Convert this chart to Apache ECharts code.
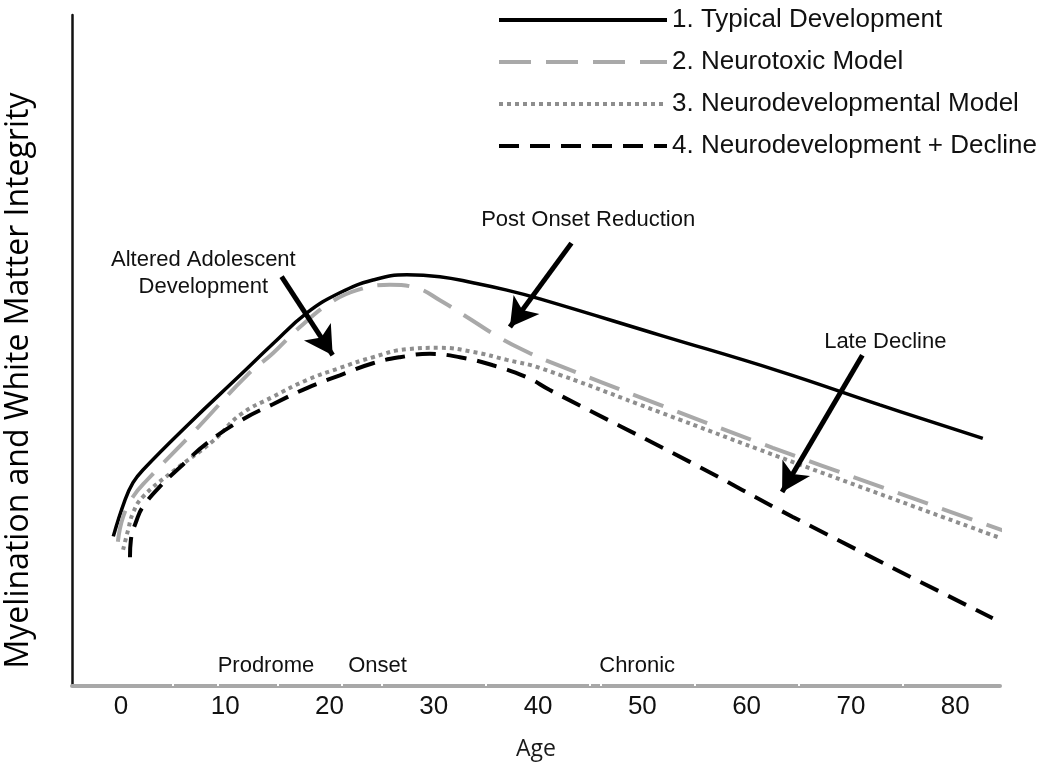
<!DOCTYPE html>
<html>
<head>
<meta charset="utf-8">
<script src="https://cdn.jsdelivr.net/npm/echarts@6/dist/echarts.min.js"></script>
<style>html,body{margin:0;padding:0;background:#fff}#c{width:1050px;height:782px}</style>
</head>
<body>
<div id="c"></div>
<script>
// ---- data (age, relative integrity 0-100) ----
const seriesNames = ['1. Typical Development', '2. Neurotoxic Model', '3. Neurodevelopmental Model', '4. Neurodevelopment + Decline'];
const typical = [[-0.74,22.3],[0.38,27.7],[1.15,30.3],[2.1,32.2],[6.6,39.2],[11.41,46.3],[14.57,51.0],[17.83,55.6],[20.99,58.6],[24.16,60.5],[27.42,61.3],[30.58,61.0],[33.75,60.1],[37.01,59.0],[40.17,57.7],[51.68,52.3],[63.18,46.9],[72.77,41.9],[82.65,36.9]];
const neurotoxic = [[-0.3,21.5],[0.2,25.2],[1.15,28.2],[2.5,30.7],[7.3,38.4],[12.08,46.3],[14.57,49.6],[17.16,53.5],[20.04,57.1],[22.63,59.0],[25.79,59.8],[28.38,59.3],[30.58,57.5],[33.17,55.0],[36.34,51.9],[39.21,49.6],[40.65,48.6],[51.68,41.9],[62.51,35.5],[84.56,23.2]];
const neurodev = [[0.2,20.3],[0.67,23.2],[1.15,25.8],[2.1,28.2],[4.99,32.0],[8.82,36.5],[11.41,40.4],[14.57,43.1],[17.83,45.6],[20.99,47.4],[24.16,49.0],[27.42,50.2],[30.58,50.4],[33.75,49.8],[37.01,48.6],[40.17,47.4],[51.68,40.8],[63.18,34.1],[84.08,22.2]];
const neurodevDecline = [[0.86,19.2],[0.95,21.8],[1.5,24.7],[2.1,26.7],[3.9,30.0],[5.66,32.6],[8.25,36.2],[11.41,39.5],[14.57,42.0],[17.83,44.4],[20.99,46.3],[24.16,48.1],[26.75,49.0],[29.63,49.5],[32.5,49.0],[35.67,47.8],[38.93,46.0],[41.13,44.1],[54.55,33.4],[64.43,25.2],[83.6,10.1]];
const xTickLabels = [0,10,20,30,40,50,60,70,80];
const xBreaks = [5,9.3,15,21.2,25,35,45,46,55,65,75];
const periodLabels = [['Prodrome',13.9],['Onset',24.6],['Chronic',49.5]];
const arrows = [
  {from:[15.4,61.0], to:[20.3,49.3]},
  {from:[43.2,66.0], to:[37.3,53.5]},
  {from:[71.1,49.3], to:[63.4,28.9]}
];
const annotations = [
  {text:'Altered Adolescent\nDevelopment', at:[7.9,61.5]},
  {text:'Post Onset Reduction', at:[44.8,69.5]},
  {text:'Late Decline', at:[73.3,51.3]}
];

const FONT = '"Liberation Sans", Arial, sans-serif';
const chart = echarts.init(document.getElementById('c'), null, {renderer:'canvas'});

const lineSeries = (name, data, color, width, dash) => ({
  name, type:'line', data, smooth:0.45, symbol:'none', showSymbol:false,
  xAxisIndex:0, yAxisIndex:0,
  lineStyle:{color, width, type:dash, cap:'butt'}, itemStyle:{color}, z:3
});

chart.setOption({
  animation:false,
  backgroundColor:'#fff',
  grid:{left:72, right:50, top:15, bottom:96, outerBoundsMode:'none', containLabel:false},
  legend:{
    orient:'vertical', left:492, top:2, itemGap:16, itemWidth:168, itemHeight:14,
    itemStyle:{opacity:0},
    lineStyle:{width:4},
    textStyle:{fontFamily:FONT, fontSize:26, color:'#111'},
    data:seriesNames
  },
  xAxis:[{
    type:'value', min:-4.7, max:84.3,
    name:'Age', nameLocation:'middle', nameGap:52,
    nameTextStyle:{fontFamily:'"Open Sans", sans-serif', fontSize:23, color:'#1a1a1a'},
    axisLine:{lineStyle:{color:'#a8a8a8', width:4}},
    axisTick:{show:false},
    axisLabel:{customValues:xTickLabels, fontFamily:FONT, fontSize:26, color:'#111', margin:8},
    splitLine:{show:false}
  },{
    type:'value', min:-4.7, max:84.3, position:'bottom',
    axisLine:{show:false},
    axisTick:{show:true, customValues:xBreaks, inside:true, length:3, lineStyle:{color:'#fff', width:2}},
    axisLabel:{show:false}, splitLine:{show:false}
  }],
  yAxis:{
    type:'value', min:0, max:100,
    name:'Myelination and White Matter Integrity', nameLocation:'middle', nameGap:37, nameRotate:90,
    nameTextStyle:{fontFamily:'"Open Sans", sans-serif', fontSize:32, color:'#000', padding:[0,60,0,0]},
    axisLine:{show:true, onZero:false, lineStyle:{color:'#111', width:2.5}},
    axisTick:{show:false}, axisLabel:{show:false}, splitLine:{show:false}
  },
  series:[
    lineSeries(seriesNames[0], typical, '#000', 3.5, 'solid'),
    lineSeries(seriesNames[1], neurotoxic, '#a9a9a9', 4, [32,15]),
    lineSeries(seriesNames[2], neurodev, '#8e8e8e', 4, [4,4]),
    lineSeries(seriesNames[3], neurodevDecline, '#000', 4, [20,11]),
    {
      type:'line', data:[], silent:true,
      markLine:{
        silent:true, symbol:['none','arrow'], symbolSize:[24,28],
        lineStyle:{color:'#000', width:5, type:'solid'},
        label:{show:false},
        data:arrows.map(a => [{coord:a.from}, {coord:a.to}])
      },
      markPoint:{
        silent:true, symbol:'rect', symbolSize:1, itemStyle:{color:'rgba(0,0,0,0)'},
        label:{show:true, fontFamily:FONT, fontSize:22, color:'#111', lineHeight:27, align:'center'},
        data:annotations.map(a => ({coord:a.at, value:a.text, label:{formatter:a.text}}))
          .concat(periodLabels.map(p => ({coord:[p[1], 3.0], label:{formatter:p[0]}})))
      }
    }
  ]
});
</script>
</body>
</html>
